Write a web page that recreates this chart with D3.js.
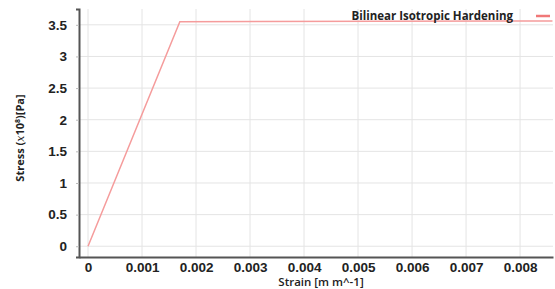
<!DOCTYPE html>
<html>
<head>
<meta charset="utf-8">
<script src="https://cdn.jsdelivr.net/npm/d3@7"></script>
<style>
  body { margin: 0; background: #fff; }
  svg { display: block; font-family: "Open Sans", "Noto Sans", sans-serif; }
</style>
</head>
<body>
<div id="container"></div>
<script>
/* DATA */
const strain = [0, 0.0017, 0.0086];
const stress = [0, 3.55, 3.56];
const xTicks = [0, 0.001, 0.002, 0.003, 0.004, 0.005, 0.006, 0.007, 0.008];
const yTicks = [0, 0.5, 1, 1.5, 2, 2.5, 3, 3.5];
const seriesName = "Bilinear Isotropic Hardening";

const W = 555, H = 289;
const margin = {top: 9, right: 2, bottom: 32, left: 79};
const width = W - margin.left - margin.right;
const height = H - margin.top - margin.bottom;

const svg = d3.select("#container").append("svg")
    .attr("width", W)
    .attr("height", H);

const g = svg.append("g")
    .attr("transform", "translate(" + margin.left + "," + margin.top + ")");

const xScale = d3.scaleLinear()
    .domain([-0.000167, 0.00861])
    .range([0, width]);

const yScale = d3.scaleLinear()
    .domain([-0.17, 3.75])
    .range([height, 0]);

// grid
g.append("g")
  .selectAll("line")
  .data(xTicks)
  .join("line")
    .attr("x1", d => xScale(d)).attr("x2", d => xScale(d))
    .attr("y1", 0).attr("y2", height)
    .attr("stroke", "#e4e4e4").attr("stroke-width", 1);

g.append("g")
  .selectAll("line")
  .data(yTicks)
  .join("line")
    .attr("y1", d => yScale(d)).attr("y2", d => yScale(d))
    .attr("x1", 0).attr("x2", width)
    .attr("stroke", "#e4e4e4").attr("stroke-width", 1);

// axes
const xAxis = g.append("g")
    .attr("transform", "translate(0," + height + ")")
    .call(d3.axisBottom(xScale).tickValues(xTicks).tickSize(0).tickPadding(5)
      .tickFormat(d => d === 0 ? "0" : d3.format(".3f")(d)));
xAxis.select(".domain").attr("stroke", "#555").attr("stroke-width", 2);
xAxis.selectAll("text")
    .style("font-size", "13.5px")
    .style("font-weight", "700")
    .style("fill", "#222");

const yAxis = g.append("g")
    .call(d3.axisLeft(yScale).tickValues(yTicks).tickSize(3).tickPadding(9).tickFormat(d3.format("")));
yAxis.select(".domain").attr("stroke", "#555").attr("stroke-width", 2);
yAxis.selectAll(".tick line").attr("stroke", "#bbb");
yAxis.selectAll("text")
    .style("font-size", "13.5px")
    .style("font-weight", "700")
    .style("fill", "#222");

// series line
const line = d3.line()
    .x((d, i) => xScale(strain[i]))
    .y(d => yScale(d));

g.append("path")
    .datum(stress)
    .attr("fill", "none")
    .attr("stroke", "#f59c9c")
    .attr("stroke-width", 1.5)
    .attr("d", line);

// legend
svg.append("text")
    .attr("x", 513)
    .attr("y", 20)
    .attr("text-anchor", "end")
    .style("font-size", "11.5px")
    .style("font-weight", "700")
    .style("fill", "#222")
    .text(seriesName);

svg.append("line")
    .attr("x1", 536).attr("x2", 550)
    .attr("y1", 16).attr("y2", 16)
    .attr("stroke", "#f07878")
    .attr("stroke-width", 2.5);

// axis titles
svg.append("text")
    .attr("x", 321)
    .attr("y", 286)
    .attr("text-anchor", "middle")
    .style("font-size", "11.5px")
    .style("font-weight", "600")
    .style("fill", "#222")
    .text("Strain [m m^-1]");

const yl = svg.append("text")
    .attr("transform", "translate(24,138) rotate(-90)")
    .attr("text-anchor", "middle")
    .style("font-size", "11px")
    .style("font-weight", "700")
    .style("fill", "#222");
yl.append("tspan").text("Stress  (");
yl.append("tspan").style("font-style", "italic").style("font-family", "DejaVu Serif, serif").style("font-weight", "400").text("x");
yl.append("tspan").text("10");
yl.append("tspan").attr("dy", "-4").style("font-size", "7px").text("8");
yl.append("tspan").attr("dy", "4").text(")[Pa]");
</script>
</body>
</html>
